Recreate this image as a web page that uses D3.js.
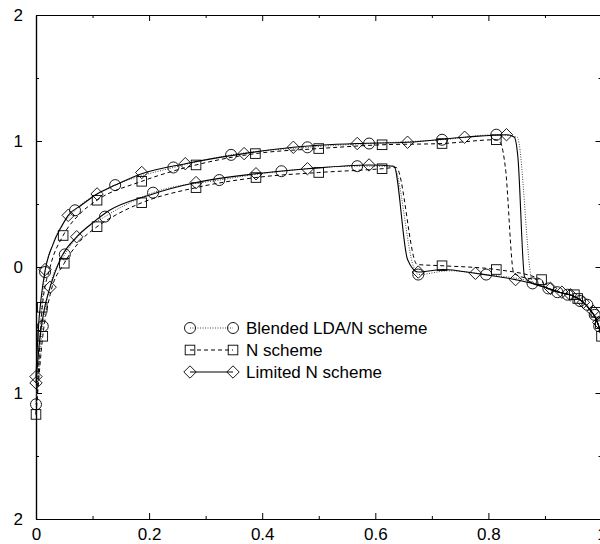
<!DOCTYPE html>
<html>
<head>
<meta charset="utf-8">
<script src="https://cdn.jsdelivr.net/npm/d3@7"></script>
<style>
  html, body { margin: 0; padding: 0; background: #fff; }
  svg { display: block; }
  text { font-family: "Liberation Sans", Arial, Helvetica, sans-serif; }
</style>
</head>
<body>
<div id="chart"></div>
<script>
// ---- data ----
const xMajorTicks = [0, 0.2, 0.4, 0.6, 0.8, 1.0];
const xMinorTicks = [0.1, 0.3, 0.5, 0.7, 0.9];
const yMajorTicks = [-2, -1, 0, 1, 2];
const yMinorTicks = [-1.5, -0.5, 0.5, 1.5];

const schemeNames = ['Blended LDA/N scheme', 'N scheme', 'Limited N scheme'];

// tail shared by every curve once the shocks have passed
const tailLine = [[0.9, -0.16], [0.925, -0.2], [0.95, -0.23], [0.965, -0.27],
    [0.98, -0.34], [0.99, -0.41], [0.997, -0.5], [1.0, -0.57]];

// Blended LDA/N scheme
const blendedUpper = [[0, -1.09], [0.006, -0.6], [0.016, -0.04], [0.03, 0.18], [0.069, 0.45],
    [0.1, 0.56], [0.14, 0.65], [0.243, 0.79], [0.345, 0.89], [0.48, 0.95], [0.589, 0.98],
    [0.718, 1.01], [0.814, 1.05], [0.851, 1.03], [0.878, -0.12]];
const blendedLower = [[0, -1.09], [0.012, -0.47], [0.025, -0.15], [0.051, 0.10], [0.08, 0.27],
    [0.122, 0.40], [0.207, 0.59], [0.324, 0.69], [0.434, 0.76], [0.568, 0.80], [0.632, 0.80],
    [0.668, 0.0], [0.676, -0.06], [0.73, -0.03], [0.796, -0.06], [0.878, -0.12]];
const blendedMarks = [[0, -1.09], [0.016, -0.04], [0.069, 0.45], [0.14, 0.65], [0.243, 0.79],
    [0.345, 0.89], [0.48, 0.95], [0.589, 0.98], [0.718, 1.01], [0.814, 1.05],
    [0.012, -0.47], [0.051, 0.10], [0.122, 0.40], [0.207, 0.59], [0.324, 0.69], [0.434, 0.76],
    [0.568, 0.80], [0.676, -0.06], [0.796, -0.06], [0.878, -0.13],
    [0.906, -0.17], [0.922, -0.2], [0.94, -0.22], [0.962, -0.27], [0.975, -0.3],
    [0.988, -0.38], [0.996, -0.47]];

// N scheme
const nUpper = [[0, -1.17], [0.004, -0.85], [0.011, -0.32], [0.025, 0.0], [0.048, 0.25],
    [0.075, 0.41], [0.108, 0.53], [0.187, 0.68], [0.283, 0.81], [0.388, 0.90], [0.5, 0.94],
    [0.612, 0.97], [0.718, 0.98], [0.814, 1.01], [0.822, 0.98], [0.83, 0.79], [0.845, -0.05],
    [0.87, -0.09], [0.894, -0.1]];
const nLower = [[0, -1.17], [0.012, -0.55], [0.025, -0.22], [0.05, 0.03], [0.075, 0.19],
    [0.108, 0.32], [0.14, 0.41], [0.187, 0.51], [0.283, 0.63], [0.389, 0.71], [0.5, 0.75],
    [0.612, 0.78], [0.637, 0.79], [0.674, 0.02], [0.718, 0.01], [0.814, -0.02], [0.894, -0.1]];
const nMarks = [[0.011, -0.32], [0.048, 0.25], [0.108, 0.53], [0.187, 0.68], [0.283, 0.81],
    [0.388, 0.90], [0.5, 0.94], [0.612, 0.97], [0.718, 0.98], [0.814, 1.01],
    [0, -1.17], [0.012, -0.55], [0.05, 0.03], [0.108, 0.32], [0.187, 0.51], [0.283, 0.63],
    [0.389, 0.71], [0.5, 0.75], [0.612, 0.78], [0.718, 0.01], [0.814, -0.02], [0.894, -0.1],
    [0.952, -0.22], [0.958, -0.25], [0.99, -0.36], [0.998, -0.45], [1.0, -0.55]];

// Limited N scheme
const limitedUpper = [[0, -0.87], [0.004, -0.5], [0.009, -0.25], [0.016, -0.03], [0.03, 0.18],
    [0.045, 0.32], [0.057, 0.41], [0.08, 0.49], [0.108, 0.58], [0.14, 0.65], [0.187, 0.74],
    [0.264, 0.82], [0.368, 0.9], [0.455, 0.95], [0.568, 0.98], [0.657, 0.99], [0.758, 1.03],
    [0.832, 1.05], [0.846, 1.03], [0.852, 0.88], [0.864, -0.08], [0.878, -0.13]];
const limitedLower = [[0, -0.92], [0.006, -0.6], [0.014, -0.35], [0.025, -0.16], [0.045, 0.08],
    [0.072, 0.24], [0.1, 0.35], [0.13, 0.45], [0.2, 0.57], [0.283, 0.67], [0.389, 0.74],
    [0.48, 0.78], [0.589, 0.81], [0.633, 0.80], [0.657, 0.06], [0.676, -0.04], [0.72, -0.02],
    [0.777, -0.05], [0.848, -0.1], [0.878, -0.13]];
const limitedMarks = [[0, -0.87], [0.016, -0.02], [0.057, 0.41], [0.108, 0.58], [0.187, 0.75],
    [0.264, 0.82], [0.368, 0.90], [0.455, 0.95], [0.568, 0.98], [0.657, 0.99], [0.758, 1.03],
    [0.832, 1.05],
    [0, -0.92], [0.025, -0.16], [0.072, 0.24], [0.283, 0.67], [0.389, 0.74], [0.48, 0.78],
    [0.589, 0.81], [0.676, -0.04], [0.777, -0.05], [0.848, -0.1],
    [0.91, -0.17], [0.93, -0.2], [0.945, -0.22], [0.968, -0.28], [0.985, -0.35], [0.995, -0.44]];

(function () {
    'use strict';

    const W = 600, H = 544;
    const left = 36, right = 601.5, top = 15, bottom = 519;

    const svg = d3.select('#chart').append('svg')
        .attr('width', W).attr('height', H);

    const x = d3.scaleLinear().domain([0, 1]).range([left, right]);
    const y = d3.scaleLinear().domain([-2, 2]).range([bottom, top]);

    // ---- axes: ticks point into the plot on all four sides ----
    const fontSize = '17px';
    function styleAxis(g) {
        g.select('.domain').attr('stroke', '#000').attr('stroke-width', 1.2);
        g.selectAll('.tick line').attr('stroke', '#000').attr('stroke-width', 1);
        g.selectAll('.tick text').attr('fill', '#000').attr('font-size', fontSize)
            .attr('font-family', '"Liberation Sans", Arial, sans-serif');
    }

    svg.append('g').attr('transform', `translate(0,${bottom})`)
        .call(d3.axisBottom(x).tickValues(xMajorTicks).tickSize(-6).tickSizeOuter(0)
            .tickPadding(9).tickFormat(d3.format('')))
        .call(styleAxis);
    svg.append('g').attr('transform', `translate(0,${bottom})`)
        .call(d3.axisBottom(x).tickValues(xMinorTicks).tickSize(-3).tickSizeOuter(0).tickFormat(''))
        .call(styleAxis);
    svg.append('g').attr('transform', `translate(0,${top})`)
        .call(d3.axisTop(x).tickValues(xMajorTicks).tickSize(-6).tickSizeOuter(0).tickFormat(''))
        .call(styleAxis);
    svg.append('g').attr('transform', `translate(0,${top})`)
        .call(d3.axisTop(x).tickValues(xMinorTicks).tickSize(-3).tickSizeOuter(0).tickFormat(''))
        .call(styleAxis);

    // y labels in the reference show no minus sign
    svg.append('g').attr('transform', `translate(${left},0)`)
        .call(d3.axisLeft(y).tickValues(yMajorTicks).tickSize(-6).tickSizeOuter(0)
            .tickPadding(13).tickFormat(d => String(Math.abs(d))))
        .call(styleAxis);
    svg.append('g').attr('transform', `translate(${left},0)`)
        .call(d3.axisLeft(y).tickValues(yMinorTicks).tickSize(-3).tickSizeOuter(0).tickFormat(''))
        .call(styleAxis);
    svg.append('g').attr('transform', `translate(${right},0)`)
        .call(d3.axisRight(y).tickValues(yMajorTicks).tickSize(-6).tickSizeOuter(0).tickFormat(''))
        .call(styleAxis);
    svg.append('g').attr('transform', `translate(${right},0)`)
        .call(d3.axisRight(y).tickValues(yMinorTicks).tickSize(-3).tickSizeOuter(0).tickFormat(''))
        .call(styleAxis);

    // ---- curves ----
    const line = d3.line()
        .x(d => x(d[0])).y(d => y(d[1]))
        .curve(d3.curveMonotoneX);

    const styles = [
        { dash: '1,1.5', width: 1, color: '#444' },   // Blended: dotted
        { dash: '4,3', width: 1, color: '#000' },     // N: dashed
        { dash: null, width: 1.1, color: '#000' },    // Limited: solid
    ];

    const curves = [
        [blendedUpper, blendedLower],
        [nUpper, nLower],
        [limitedUpper, limitedLower],
    ];
    const marks = [blendedMarks, nMarks, limitedMarks];

    const plot = svg.append('g');

    curves.forEach((pair, si) => {
        const st = styles[si];
        pair.forEach(c => {
            plot.append('path')
                .attr('d', line(c.concat(tailLine)))
                .attr('fill', 'none')
                .attr('stroke', st.color)
                .attr('stroke-width', st.width)
                .attr('stroke-dasharray', st.dash);
        });
    });

    // open markers: circle, square, diamond
    function drawMarker(g, kind, cx, cy) {
        if (kind === 0) {
            g.append('circle').attr('cx', cx).attr('cy', cy).attr('r', 5.5);
        } else if (kind === 1) {
            g.append('rect').attr('x', cx - 4.8).attr('y', cy - 4.8)
                .attr('width', 9.6).attr('height', 9.6);
        } else {
            g.append('path').attr('d',
                `M ${cx} ${cy - 6.2} L ${cx + 6.2} ${cy} L ${cx} ${cy + 6.2} L ${cx - 6.2} ${cy} Z`);
        }
    }

    marks.forEach((pts, si) => {
        const g = plot.append('g')
            .attr('fill', 'none').attr('stroke', '#000').attr('stroke-width', 0.9);
        pts.forEach(p => drawMarker(g, si, x(p[0]), y(p[1])));
    });

    // ---- legend ----
    const legend = svg.append('g');
    const rowY = [328, 350, 372];
    const sx1 = 190, sx2 = 233, tx = 246;
    schemeNames.forEach((name, si) => {
        const st = styles[si];
        const ry = rowY[si];
        legend.append('line')
            .attr('x1', sx1).attr('x2', sx2).attr('y1', ry).attr('y2', ry)
            .attr('stroke', st.color).attr('stroke-width', st.width)
            .attr('stroke-dasharray', st.dash);
        const mg = legend.append('g')
            .attr('fill', 'none').attr('stroke', '#000').attr('stroke-width', 0.9);
        drawMarker(mg, si, sx1, ry);
        drawMarker(mg, si, sx2, ry);
        legend.append('text')
            .attr('x', tx).attr('y', ry).attr('dy', '0.36em')
            .attr('font-size', fontSize).attr('fill', '#000')
            .text(name);
    });
})();
</script>
</body>
</html>
